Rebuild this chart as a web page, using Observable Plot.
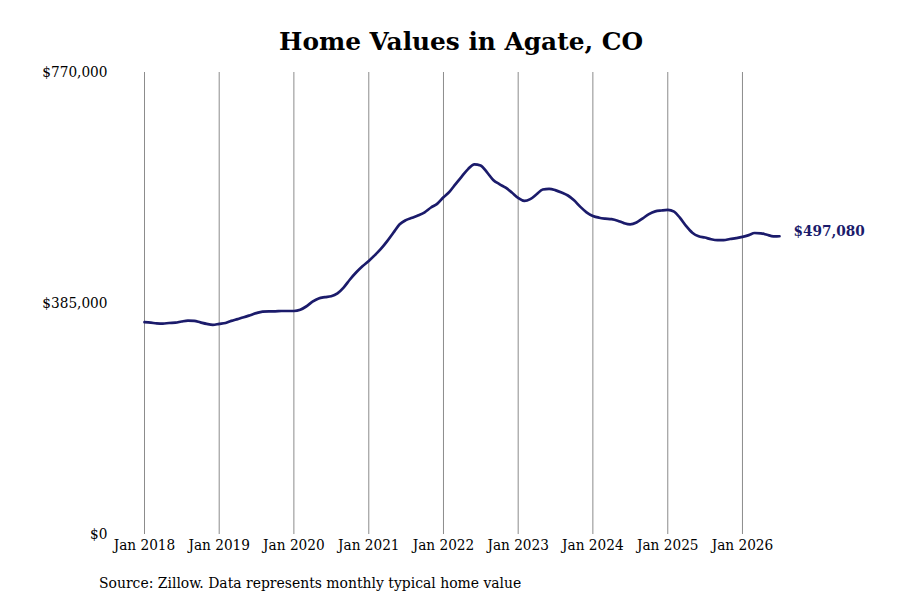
<!DOCTYPE html>
<html>
<head>
<meta charset="utf-8">
<script src="https://cdn.jsdelivr.net/npm/d3@7"></script>
<script src="https://cdn.jsdelivr.net/npm/@observablehq/plot@0.6"></script>
<style>
  html, body { margin: 0; padding: 0; background: #fff; }
  body { width: 900px; height: 600px; font-family: "DejaVu Serif", serif; }
  #title { height: 60px; box-sizing: border-box; padding-top: 30px; padding-left: 22px;
           text-align: center; font-family: "DejaVu Serif", serif; font-weight: bold; font-size: 24.8px; color: #000; line-height: 1; }
  #caption { height: 40px; box-sizing: border-box; padding-left: 99px; padding-top: 14px;
             font-family: "DejaVu Serif Condensed", "DejaVu Serif", serif; font-stretch: condensed; font-size: 15.5px; color: #000; }
  #chart svg { display: block; }
</style>
</head>
<body>
<div id="title">Home Values in Agate, CO</div>
<div id="chart"></div>
<div id="caption">Source: Zillow. Data represents monthly typical home value</div>
<script>
const startYear = 2018;
const startMonth = 0; // January
// Monthly typical home value, Jan 2018 – Jul 2026
const values = [
  353800, 353000, 352000, 351500, 352500, 353000, 355000, 356500, 356000, 353500, 351000, 349500,
  351000, 352500, 356000, 359000, 362000, 365500, 369000, 371500, 372000, 372000, 372500, 372500,
  372500, 374500, 380000, 388000, 393500, 395500, 397000, 402000, 412000, 425000, 437000, 447000,
  456000, 466000, 476000, 489000, 503000, 517000, 524000, 528000, 532000, 537000, 545000, 551000,
  562000, 572000, 584000, 597000, 609000, 617000, 615000, 604000, 591000, 584000, 578000, 570000,
  561000, 556000, 559000, 567000, 575000, 576000, 574000, 570000, 565000, 557000, 546000, 537000,
  531000, 528000, 526500, 525500, 523000, 519000, 517000, 520000, 527000, 534000, 538500, 540000,
  541000, 538000, 528000, 514000, 503000, 497000, 495000, 492000, 490500, 490500, 492500, 494000,
  496000, 499000, 502500, 502000, 499500, 497000, 497080
];
const yTicks = [0, 385000, 770000];
const xTickYears = [2018, 2019, 2020, 2021, 2022, 2023, 2024, 2025, 2026];

const data = values.map((v, i) => ({ date: new Date(startYear, startMonth + i, 1), value: v }));
const last = data[data.length - 1];
const xTicks = xTickYears.map(y => new Date(y, 0, 1));
const fmtMoney = d => "$" + d3.format(",")(d);
const lineColor = "#1b1b6b";
const condensed = "'DejaVu Serif Condensed', 'DejaVu Serif', serif";

const chart = Plot.plot({
  width: 900,
  height: 500,
  marginTop: 12,
  marginBottom: 26,
  marginLeft: 144,
  marginRight: 121,
  style: { fontFamily: condensed, fontSize: "15px", fontStretch: "condensed", color: "#000", background: "#fff" },
  x: { type: "time", domain: [data[0].date, last.date], label: null },
  y: { domain: [0, 770000], label: null },
  marks: [
    Plot.ruleX(xTicks, { y1: 0, y2: 770000, stroke: "#8c8c8c", strokeWidth: 1 }),
    Plot.axisX({ ticks: xTicks, tickFormat: d3.timeFormat("Jan %Y"), tickSize: 0, tickPadding: 5, fontSize: 15.2 }),
    Plot.axisY({ ticks: yTicks, tickFormat: fmtMoney, tickSize: 0, tickPadding: 37, fontSize: 15.2 }),
    Plot.lineY(data, { x: "date", y: "value", stroke: lineColor, strokeWidth: 2.7, curve: "monotone-x" }),
    Plot.text([last], { x: "date", y: "value", text: d => fmtMoney(d.value), dx: 14, dy: -5, textAnchor: "start",
      fill: lineColor, fontWeight: "bold", fontSize: 15.2, fontFamily: "'DejaVu Serif', serif" })
  ]
});
document.getElementById("chart").appendChild(chart);
</script>
</body>
</html>
